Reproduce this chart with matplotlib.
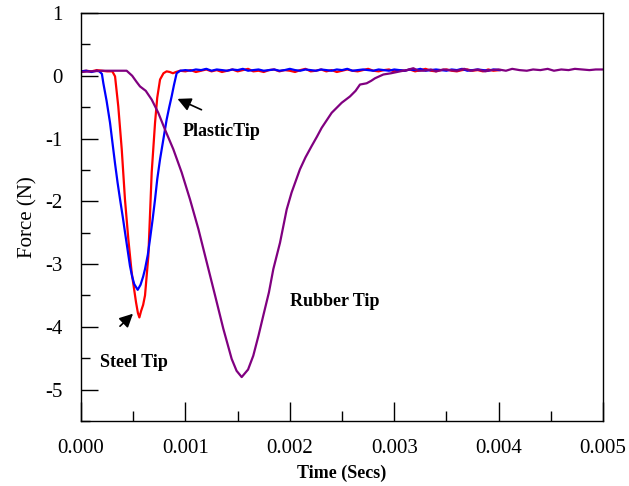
import matplotlib
matplotlib.use("Agg")
import matplotlib.pyplot as plt
from matplotlib.ticker import MultipleLocator, FormatStrFormatter

# ---------------- data ----------------
steel_t = [0.0, 0.00005, 0.0001, 0.00015, 0.0002, 0.00025, 0.0003, 0.000326, 0.000357,
           0.00039, 0.000421, 0.000453, 0.000485, 0.000527, 0.000545, 0.000559, 0.000575,
           0.000595, 0.000613, 0.000645, 0.000677, 0.000709, 0.00073, 0.000757, 0.00079,
           0.00082, 0.00085, 0.00088, 0.00091, 0.00095, 0.001, 0.00105, 0.0011, 0.00115,
           0.0012, 0.00125, 0.0013, 0.00135, 0.0014, 0.00145, 0.0015, 0.00155, 0.0016,
           0.00165, 0.0017, 0.00175, 0.0018, 0.00185, 0.0019, 0.00195, 0.002, 0.00205,
           0.0021, 0.00215, 0.0022, 0.00225, 0.0023, 0.00235, 0.0024, 0.00245, 0.0025,
           0.00255, 0.0026, 0.00265, 0.0027, 0.00275, 0.0028, 0.00285, 0.0029, 0.00295,
           0.003, 0.00305, 0.0031, 0.00315, 0.0032, 0.00325, 0.0033, 0.00335, 0.0034,
           0.00345, 0.0035, 0.00355, 0.0036, 0.00365, 0.0037, 0.00375, 0.0038, 0.00385,
           0.0039, 0.00395, 0.00401]
steel_f = [0.07, 0.08, 0.07, 0.09, 0.08, 0.07, 0.07, -0.01, -0.49,
           -1.17, -1.97, -2.60, -3.13, -3.61, -3.78, -3.85, -3.75,
           -3.65, -3.50, -2.87, -1.54, -0.75, -0.35, -0.06, 0.04,
           0.07, 0.06, 0.04, 0.06, 0.08, 0.07, 0.09, 0.06, 0.08,
           0.10, 0.07, 0.09, 0.06, 0.08, 0.10, 0.07, 0.09, 0.11,
           0.07, 0.08, 0.06, 0.09, 0.10, 0.07, 0.09, 0.08, 0.06,
           0.09, 0.11, 0.07, 0.08, 0.10, 0.07, 0.09, 0.06, 0.08,
           0.10, 0.08, 0.07, 0.09, 0.11, 0.08, 0.07, 0.09, 0.10,
           0.07, 0.09, 0.08, 0.10, 0.07, 0.09, 0.11, 0.08, 0.07,
           0.09, 0.10, 0.08, 0.07, 0.09, 0.10, 0.08, 0.09, 0.07,
           0.10, 0.08, 0.09]

plastic_t = [0.0, 0.00005, 0.0001, 0.00015, 0.000175, 0.0002, 0.000214, 0.000245, 0.000278,
             0.0003, 0.000326, 0.00035, 0.000374, 0.0004, 0.000421, 0.000445, 0.000469,
             0.00049, 0.00051, 0.000543, 0.00057, 0.000595, 0.000613, 0.00064, 0.000661,
             0.000685, 0.000709, 0.00073, 0.000757, 0.00079, 0.00082, 0.000845, 0.000868,
             0.00089, 0.000916, 0.00095, 0.001, 0.00105, 0.0011, 0.00115, 0.0012, 0.00125,
             0.0013, 0.00135, 0.0014, 0.00145, 0.0015, 0.00155, 0.0016, 0.00165, 0.0017,
             0.00175, 0.0018, 0.00185, 0.0019, 0.00195, 0.002, 0.00205, 0.0021, 0.00215,
             0.0022, 0.00225, 0.0023, 0.00235, 0.0024, 0.00245, 0.0025, 0.00255, 0.0026,
             0.00265, 0.0027, 0.00275, 0.0028, 0.00285, 0.0029, 0.00295, 0.003, 0.00305,
             0.0031, 0.00315, 0.0032, 0.00325, 0.0033, 0.00335, 0.0034, 0.00345, 0.0035,
             0.00355, 0.0036, 0.00365, 0.0037, 0.00375, 0.0038, 0.00385, 0.0039, 0.00395,
             0.00401]
plastic_f = [0.07, 0.08, 0.06, 0.08, 0.07, 0.03, -0.12, -0.40, -0.75,
             -1.05, -1.40, -1.70, -1.97, -2.25, -2.49, -2.76, -3.03,
             -3.20, -3.32, -3.41, -3.33, -3.20, -3.08, -2.85, -2.60,
             -2.30, -1.97, -1.65, -1.33, -1.00, -0.70, -0.50, -0.33,
             -0.15, 0.04, 0.08, 0.09, 0.08, 0.10, 0.09, 0.11, 0.08,
             0.10, 0.09, 0.08, 0.10, 0.09, 0.11, 0.08, 0.09, 0.10,
             0.08, 0.09, 0.10, 0.08, 0.09, 0.11, 0.09, 0.08, 0.10,
             0.09, 0.08, 0.10, 0.09, 0.08, 0.10, 0.09, 0.11, 0.08,
             0.09, 0.10, 0.09, 0.08, 0.10, 0.09, 0.08, 0.10, 0.09,
             0.08, 0.10, 0.09, 0.11, 0.08, 0.09, 0.10, 0.09, 0.08,
             0.10, 0.09, 0.11, 0.08, 0.09, 0.10, 0.09, 0.08, 0.10,
             0.09]

rubber_t = [0.0, 0.0001, 0.0002, 0.0003, 0.00037, 0.000437, 0.00049, 0.000533, 0.000565,
            0.00062, 0.000677, 0.00074, 0.000805, 0.000884, 0.000964, 0.001044, 0.001124,
            0.001204, 0.001284, 0.001363, 0.001443, 0.00149, 0.001539, 0.0016, 0.00165,
            0.0017, 0.001746, 0.0018, 0.001842, 0.001906, 0.00197, 0.002017, 0.002097,
            0.00215, 0.002209, 0.00226, 0.002305, 0.002401, 0.002497, 0.002576, 0.00263,
            0.002672, 0.002736, 0.00278, 0.002816, 0.002896, 0.00297, 0.003056, 0.00312,
            0.003183, 0.00323, 0.00328, 0.00335, 0.0034, 0.00347, 0.003534, 0.0036, 0.00367,
            0.00373, 0.0038, 0.00387, 0.00393, 0.004, 0.00407, 0.00413, 0.0042, 0.00427,
            0.00433, 0.0044, 0.00447, 0.00453, 0.0046, 0.00467, 0.00473, 0.0048, 0.00487,
            0.00493, 0.005]
rubber_f = [0.06, 0.07, 0.08, 0.08, 0.08, 0.08, 0.0, -0.10, -0.17,
            -0.24, -0.38, -0.59, -0.86, -1.17, -1.54, -1.97, -2.44,
            -2.97, -3.50, -4.03, -4.51, -4.70, -4.80, -4.68, -4.46,
            -4.14, -3.82, -3.45, -3.08, -2.66, -2.13, -1.86, -1.49,
            -1.30, -1.12, -0.97, -0.83, -0.59, -0.43, -0.33, -0.24,
            -0.14, -0.12, -0.08, -0.04, 0.02, 0.04, 0.07, 0.09,
            0.12, 0.08, 0.08, 0.10, 0.07, 0.10, 0.09, 0.08, 0.11,
            0.08, 0.10, 0.07, 0.09, 0.10, 0.08, 0.11, 0.09, 0.08,
            0.10, 0.09, 0.11, 0.08, 0.10, 0.09, 0.11, 0.10, 0.09,
            0.10, 0.10]

x_ticks = [0.0, 0.001, 0.002, 0.003, 0.004, 0.005]
y_ticks = [-5, -4, -3, -2, -1, 0, 1]

# ---------------- figure ----------------
plt.rcParams['font.family'] = ['Liberation Serif', 'DejaVu Serif']
fig = plt.figure(figsize=(6.29, 4.86), dpi=100)
ax = fig.add_axes([0.1288, 0.1337, 0.8299, 0.8396])

ax.plot(steel_t, steel_f, color='#ff0000', lw=1.6)
ax.plot(plastic_t, plastic_f, color='#0000ff', lw=1.6)
ax.plot(rubber_t, rubber_f, color='#800080', lw=1.6)

ax.set_xlim(0, 0.005)
ax.set_ylim(-5.5, 1)
ax.set_xticks(x_ticks)
ax.set_yticks(y_ticks)
ax.xaxis.set_major_formatter(FormatStrFormatter('%.3f'))
ax.yaxis.set_major_formatter(FormatStrFormatter('%d'))
ax.xaxis.set_minor_locator(MultipleLocator(0.0005))
ax.yaxis.set_minor_locator(MultipleLocator(0.5))
ax.tick_params(axis='both', which='both', direction='in', top=False, right=False,
               labelsize=15, width=1.0)
ax.tick_params(axis='x', which='major', length=14, pad=13)
ax.tick_params(axis='x', which='minor', length=7)
ax.tick_params(axis='y', which='major', length=12, pad=13)
ax.tick_params(axis='y', which='minor', length=6.5)
for s in ax.spines.values():
    s.set_linewidth(1.0)

ax.set_xlabel('Time (Secs)', fontsize=13, fontweight='bold', labelpad=5)
ax.set_ylabel('Force (N)', fontsize=15, labelpad=6)

akw = dict(arrowstyle='-|>,head_length=0.8,head_width=0.4', color='black', lw=1.2)
ax.annotate('', xy=(0.0009, -0.35), xytext=(0.001178, -0.56), arrowprops=akw)
ax.text(0.000977, -0.89, 'PlasticTip', fontsize=13, fontweight='bold', va='center', ha='left')
ax.annotate('', xy=(0.000517, -3.76), xytext=(0.000354, -4.02), arrowprops=akw)
ax.text(0.000182, -4.56, 'Steel Tip', fontsize=13, fontweight='bold', va='center', ha='left')
ax.text(0.002, -3.59, 'Rubber Tip', fontsize=13, fontweight='bold', va='center', ha='left')

fig.savefig('out.png', dpi=100)
